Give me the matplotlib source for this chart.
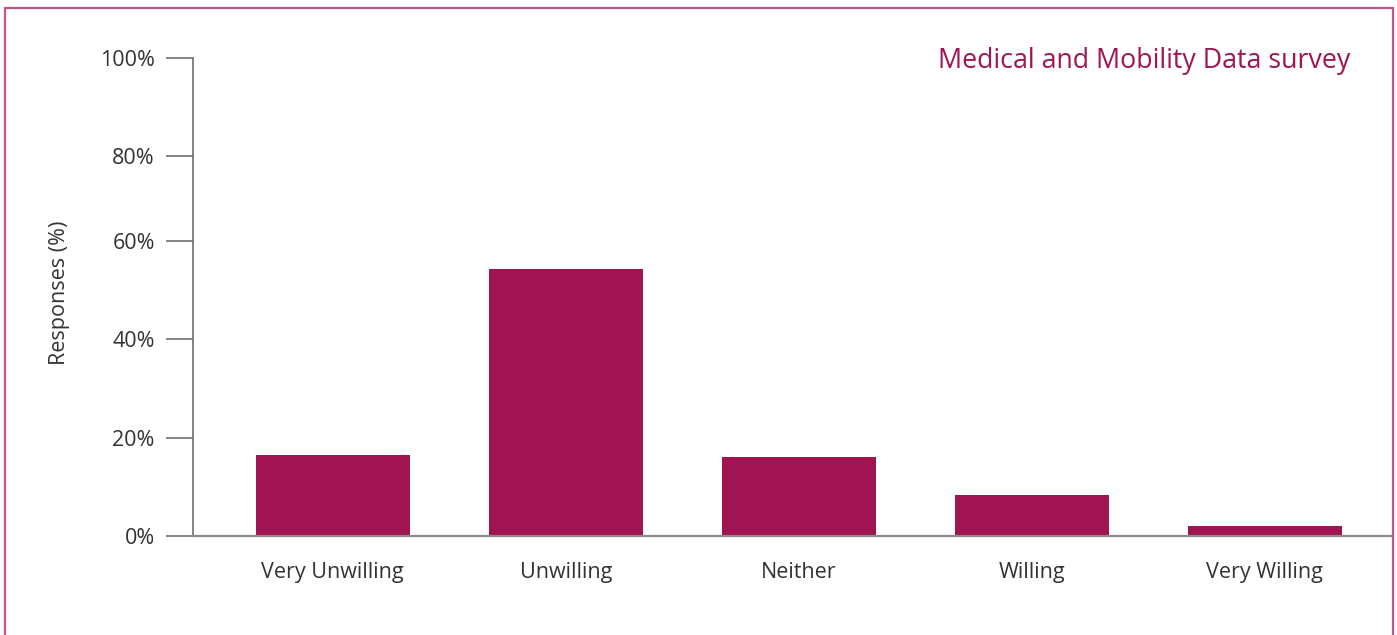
import matplotlib.pyplot as plt
from matplotlib.patches import Rectangle

# Data
categories = ["Very Unwilling", "Unwilling", "Neither", "Willing", "Very Willing"]
responses = [17.0, 55.9, 16.6, 8.6, 2.1]
ytick_values = [0, 20.6, 41.2, 61.8, 79.4, 100]
ytick_labels = ["0%", "20%", "40%", "60%", "80%", "100%"]

bar_color = "#A01452"
frame_color = "#C0568A"
text_color = "#333333"
axis_color = "#8C8C8C"

plt.rcParams['font.family'] = ['Open Sans', 'DejaVu Sans']

fig = plt.figure(figsize=(13.97, 6.35), dpi=100)
ax = fig.add_axes([193 / 1397, 1 - 536 / 635, 1200 / 1397, 478 / 635])

x = list(range(len(categories)))
ax.bar(x, responses, width=0.66, color=bar_color, zorder=2)

ax.set_xlim(-0.6, 4.55)
ax.set_ylim(0, 100)
ax.set_xticks(x)
ax.set_xticklabels(categories, fontsize=15.5, color=text_color)
ax.set_yticks(ytick_values)
ax.set_yticklabels(ytick_labels, fontsize=15.5, color=text_color)
ax.tick_params(axis='x', length=0, pad=19)
ax.tick_params(axis='y', length=19.5, width=1.2, color="#6E6E6E", pad=8)

for side in ["top", "right"]:
    ax.spines[side].set_visible(False)
ax.spines["left"].set_color("#6E6E6E")
ax.spines["left"].set_linewidth(1.2)
ax.spines["bottom"].set_color(axis_color)
ax.spines["bottom"].set_linewidth(1.6)

ax.set_ylabel("Responses (%)", fontsize=15.5, color=text_color, labelpad=0)
ax.yaxis.set_label_coords(-0.1025, 0.508)

fig.text(1350 / 1397, 1 - 61 / 635, "Medical and Mobility Data survey",
         fontsize=19.3, color=bar_color, ha="right", va="center")

# outer frame (bottom edge cut off in the reference)
fig.patches.append(Rectangle((5 / 1397, -0.05), 1388 / 1397, 1.05 - 8 / 635,
                             transform=fig.transFigure, fill=False,
                             edgecolor=frame_color, linewidth=1.6))

fig.savefig("out.png", dpi=100)
